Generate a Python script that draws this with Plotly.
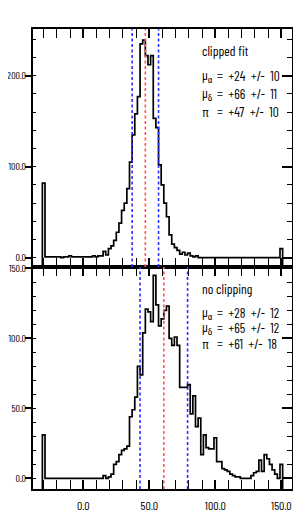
import plotly.graph_objects as go
from plotly.subplots import make_subplots

# ---------------- data ----------------
bin_centers = [
    -30, -28, -26, -24, -22, -20, -18, -16, -14, -12,
    -10, -8, -6, -4, -2, 0, 2, 4, 6, 8,
    10, 12, 14, 16, 18, 20, 22, 24, 26, 28,
    30, 32, 34, 36, 38, 40, 42, 44, 46, 48,
    50, 52, 54, 56, 58, 60, 62, 64, 66, 68,
    70, 72, 74, 76, 78, 80, 82, 84, 86, 88,
    90, 92, 94, 96, 98, 100, 102, 104, 106, 108,
    110, 112, 114, 116, 118, 120, 122, 124, 126, 128,
    130, 132, 134, 136, 138, 140, 142, 144, 146, 148,
    150,
]
bin_width = 2.0

counts_clipped = [
    82, 1, 1, 1, 1, 1, 1, 0, 1, 1,
    2, 1, 1, 1, 1, 1, 1, 1, 1, 2,
    1, 2, 2, 7, 3, 10, 13, 19, 28, 38,
    52, 60, 76, 105, 135, 158, 177, 235, 239, 222,
    212, 222, 153, 143, 102, 80, 60, 45, 25, 15,
    11, 8, 4, 6, 3, 5, 2, 1, 2, 0,
    0, 0, 0, 0, 0, 0, 0, 0, 0, 0,
    0, 0, 0, 0, 0, 0, 0, 0, 0, 0,
    0, 0, 0, 0, 0, 0, 0, 0, 0, 0,
    10,
]

counts_noclip = [
    31, 0, 0, 0, 0, 0, 0, 0, 0, 0,
    0, 0, 0, 0, 0, 0, 0, 0, 0, 0,
    0, 0, 0, 2, 0, 1, 3, 10, 12, 17,
    20, 21, 23, 44, 49, 58, 80, 74, 104, 121,
    119, 112, 145, 124, 109, 114, 120, 123, 100, 95,
    101, 95, 65, 65, 65, 67, 46, 59, 37, 43,
    17, 31, 22, 21, 21, 29, 12, 12, 7, 6,
    5, 3, 2, 1, 1, 0, 0, 0, 0, 2,
    4, 5, 13, 5, 17, 14, 10, 6, 3, 0,
    10,
]

panel_titles = ["clipped fit", "no clipping"]
param_symbols = ["μ<sub>α</sub>", "μ<sub>δ</sub>", "π"]
clipped_values = [24, 66, 47]
clipped_errors = [10, 11, 10]
noclip_values = [28, 65, 61]
noclip_errors = [12, 12, 18]

x_ticks = [0, 50, 100, 150]
y_ticks_top = [0, 100, 200]
y_ticks_bottom = [0, 50, 100, 150]

# ---------------- figure ----------------
W, H = 301, 518
OFF = 8  # page body margin of the written html
FL, FR, FT, FB, FMID = 33, 292, 29, 489, 267  # frame edges in the picture
ML, MT = FL - OFF, FT - OFF
MR, MB = W - (FR - OFF), H - (FB - OFF)
PW, PH = FR - FL, FB - FT
TOP_H, BOT_H = FMID - FT, FB - FMID

FONT = "Barlow Condensed, Fira Sans Extra Condensed, Archivo Narrow, sans-serif"

fig = make_subplots(rows=2, cols=1, shared_xaxes=True, vertical_spacing=0,
                    row_heights=[TOP_H, BOT_H])

x_range = [-38.1, 158.1]
y_ranges = [[-10.2, 251.3], [-7.6, 151.0]]


def step_trace(counts, ybase):
    half = bin_width / 2.0
    edges = [c - half for c in bin_centers] + [bin_centers[-1] + half]
    xs = [edges[0]] + edges[:-1] + [edges[-1]]
    ys = [ybase] + list(counts) + [ybase]
    return go.Scatter(x=xs, y=ys, mode="lines", line_shape="hv",
                      line=dict(color="black", width=1.7),
                      hoverinfo="skip", showlegend=False)


for row, counts in ((1, counts_clipped), (2, counts_noclip)):
    fig.add_trace(step_trace(counts, y_ranges[row - 1][0] - 20), row=row, col=1)

# dummy traces so the right-hand tick axes get drawn
fig.add_trace(go.Scatter(x=[None], y=[None], xaxis="x", yaxis="y3",
                         showlegend=False, hoverinfo="skip"))
fig.add_trace(go.Scatter(x=[None], y=[None], xaxis="x2", yaxis="y4",
                         showlegend=False, hoverinfo="skip"))

# dashed lines at pi and pi +/- err
for row, (vals, errs) in ((1, (clipped_values, clipped_errors)),
                          (2, (noclip_values, noclip_errors))):
    pi, dpi = vals[2], errs[2]
    yref = "y domain" if row == 1 else "y2 domain"
    xref = "x" if row == 1 else "x2"
    for xv, col in ((pi - dpi, "#2f2fff"), (pi, "#ff5757"), (pi + dpi, "#2f2fff")):
        fig.add_shape(type="line", x0=xv, x1=xv, y0=0, y1=1,
                      xref=xref, yref=yref,
                      line=dict(color=col, width=1.6, dash="3px,2.5px"),
                      layer="above")

base = dict(showline=True, linewidth=2, linecolor="black", showgrid=False,
            zeroline=False, automargin=False, tickcolor="black", tickwidth=1.5)

fig.update_xaxes(range=x_range, tickvals=x_ticks, tickformat=".1f", mirror="allticks",
                 ticks="inside", ticklen=9,
                 tickfont=dict(family=FONT, size=12, color="black"),
                 minor=dict(dtick=10, tick0=0, ticks="inside", ticklen=4,
                            tickwidth=1.2, tickcolor="black"),
                 **base)
fig.update_xaxes(showticklabels=False, row=1, col=1)
fig.update_xaxes(ticklabelstandoff=5, row=2, col=1)

minor_dticks = [20, 10]
y_tickvals = [y_ticks_top, y_ticks_bottom]
for row in (1, 2):
    fig.update_yaxes(range=y_ranges[row - 1], tickvals=y_tickvals[row - 1],
                     tickformat=".1f", mirror=False, ticks="outside", ticklen=6,
                     tickfont=dict(family=FONT, size=10, color="black"),
                     ticklabelstandoff=-3,
                     minor=dict(dtick=minor_dticks[row - 1], tick0=0, ticks="inside",
                                ticklen=3, tickwidth=1.2, tickcolor="black"),
                     row=row, col=1, **base)

right_common = dict(side="right", ticks="inside", ticklen=10, showticklabels=False,
                    **base)
fig.update_layout(
    yaxis3=dict(overlaying="y", anchor="x", range=y_ranges[0], tickvals=y_ticks_top,
                minor=dict(dtick=20, tick0=0, ticks="inside", ticklen=5,
                           tickwidth=1.2, tickcolor="black"),
                **right_common),
    yaxis4=dict(overlaying="y2", anchor="x2", range=y_ranges[1], tickvals=y_ticks_bottom,
                minor=dict(dtick=10, tick0=0, ticks="inside", ticklen=5,
                           tickwidth=1.2, tickcolor="black"),
                **right_common),
)

NB = "\u00a0"


def px_x(px):
    return (px - FL) / PW


def px_y(py):
    return 1 - (py - FT) / PH


text_font = dict(family=FONT, size=13.5, color="black")
blocks = [
    (panel_titles[0], clipped_values, clipped_errors, 51, [76, 94, 112]),
    (panel_titles[1], noclip_values, noclip_errors, 288, [312, 327, 343]),
]
for title, vals, errs, ty, line_ys in blocks:
    fig.add_annotation(x=px_x(200), y=px_y(ty), xref="paper", yref="paper",
                       text=title, showarrow=False, xanchor="left", yanchor="middle",
                       font=text_font)
    for sym, v, e, ly in zip(param_symbols, vals, errs, line_ys):
        fig.add_annotation(x=px_x(200), y=px_y(ly), xref="paper", yref="paper",
                           text=sym, showarrow=False, xanchor="left", yanchor="middle",
                           font=text_font)
        txt = f"={NB}{NB}+{v:d}{NB}{NB}+/-{NB}{NB}{e:d}"
        fig.add_annotation(x=px_x(215), y=px_y(ly), xref="paper", yref="paper",
                           text=txt, showarrow=False, xanchor="left", yanchor="middle",
                           font=text_font)

fig.update_layout(width=W, height=H, margin=dict(l=ML, r=MR, t=MT, b=MB),
                  paper_bgcolor="white", plot_bgcolor="white", showlegend=False)

fig.write_html("out.html")
